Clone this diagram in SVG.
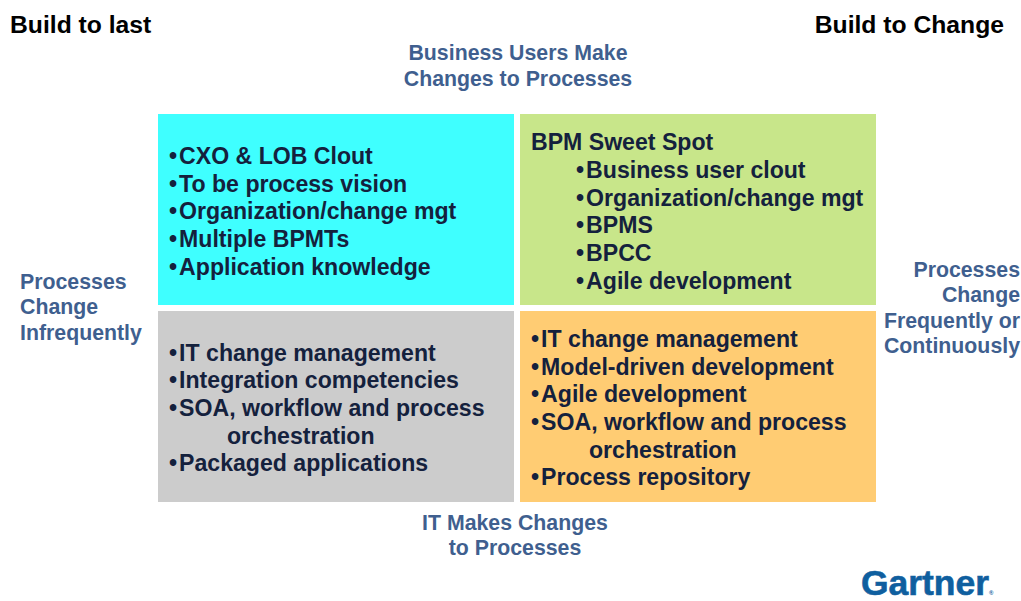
<svg xmlns="http://www.w3.org/2000/svg" width="1021" height="601" viewBox="0 0 1021 601">
<style>
text{font-family:"Liberation Sans",Arial,sans-serif;font-weight:700}
.h{font-size:24.7px;fill:#000}
.a{font-size:21.3px;fill:#3f5f8f}
.b{font-size:23.1px;fill:#14213d}
.t{dx:2px}
</style>
<rect width="1021" height="601" fill="#fff"/>
<g id="title-left"><text class="h" x="10" y="33">Build to last</text></g>
<g id="title-right"><text class="h" x="1004" y="33" text-anchor="end">Build to Change</text></g>
<g id="axis-top"><text class="a" x="518" y="60" text-anchor="middle">Business Users Make</text><text class="a" x="518" y="86" text-anchor="middle">Changes to Processes</text></g>
<g id="axis-bottom"><text class="a" x="515" y="530" text-anchor="middle">IT Makes Changes</text><text class="a" x="515" y="555" text-anchor="middle">to Processes</text></g>
<g id="axis-left"><text class="a" x="20" y="289">Processes</text><text class="a" x="20" y="314">Change</text><text class="a" x="20" y="340">Infrequently</text></g>
<g id="axis-right" text-anchor="end"><text class="a" x="1020" y="277">Processes</text><text class="a" x="1020" y="302">Change</text><text class="a" x="1020" y="328">Frequently or</text><text class="a" x="1020" y="353">Continuously</text></g>
<g id="q1"><rect x="158" y="114" width="356" height="191" fill="#3fffff"/>
<text class="b" x="169" y="163.500">•<tspan dx="2">CXO &amp; LOB Clout</tspan></text><text class="b" x="169" y="191.500">•<tspan dx="2">To be process vision</tspan></text><text class="b" x="169" y="218.500">•<tspan dx="2">Organization/change mgt</tspan></text><text class="b" x="169" y="246.500">•<tspan dx="2">Multiple BPMTs</tspan></text><text class="b" x="169" y="274.500">•<tspan dx="2">Application knowledge</tspan></text></g>
<g id="q2"><rect x="520" y="114" width="356" height="191" fill="#c8e68a"/>
<text class="b" x="531" y="149.500">BPM Sweet Spot</text><text class="b" x="576" y="177.500">•<tspan dx="2">Business user clout</tspan></text><text class="b" x="576" y="205.500">•<tspan dx="2">Organization/change mgt</tspan></text><text class="b" x="576" y="232.500">•<tspan dx="2">BPMS</tspan></text><text class="b" x="576" y="260.500">•<tspan dx="2">BPCC</tspan></text><text class="b" x="576" y="288.500">•<tspan dx="2">Agile development</tspan></text></g>
<g id="q3"><rect x="158" y="311" width="356" height="191" fill="#cccccc"/>
<text class="b" x="169" y="360.500">•<tspan dx="2">IT change management</tspan></text><text class="b" x="169" y="387.500">•<tspan dx="2">Integration competencies</tspan></text><text class="b" x="169" y="415.500">•<tspan dx="2">SOA, workflow and process</tspan></text><text class="b" x="227" y="443.500">orchestration</text><text class="b" x="169" y="470.500">•<tspan dx="2">Packaged applications</tspan></text></g>
<g id="q4"><rect x="520" y="311" width="356" height="191" fill="#ffcc73"/>
<text class="b" x="531" y="346.500">•<tspan dx="2">IT change management</tspan></text><text class="b" x="531" y="374.500">•<tspan dx="2">Model-driven development</tspan></text><text class="b" x="531" y="401.500">•<tspan dx="2">Agile development</tspan></text><text class="b" x="531" y="429.500">•<tspan dx="2">SOA, workflow and process</tspan></text><text class="b" x="589" y="457.500">orchestration</text><text class="b" x="531" y="484.500">•<tspan dx="2">Process repository</tspan></text></g>
<g id="logo" fill="#0f5f9f" stroke="#0f5f9f"><text x="861" y="595" font-size="35px" stroke-width=".6" textLength="128" lengthAdjust="spacingAndGlyphs">Gartner</text><text x="989" y="595" font-size="6px" stroke="none">®</text></g>
</svg>
